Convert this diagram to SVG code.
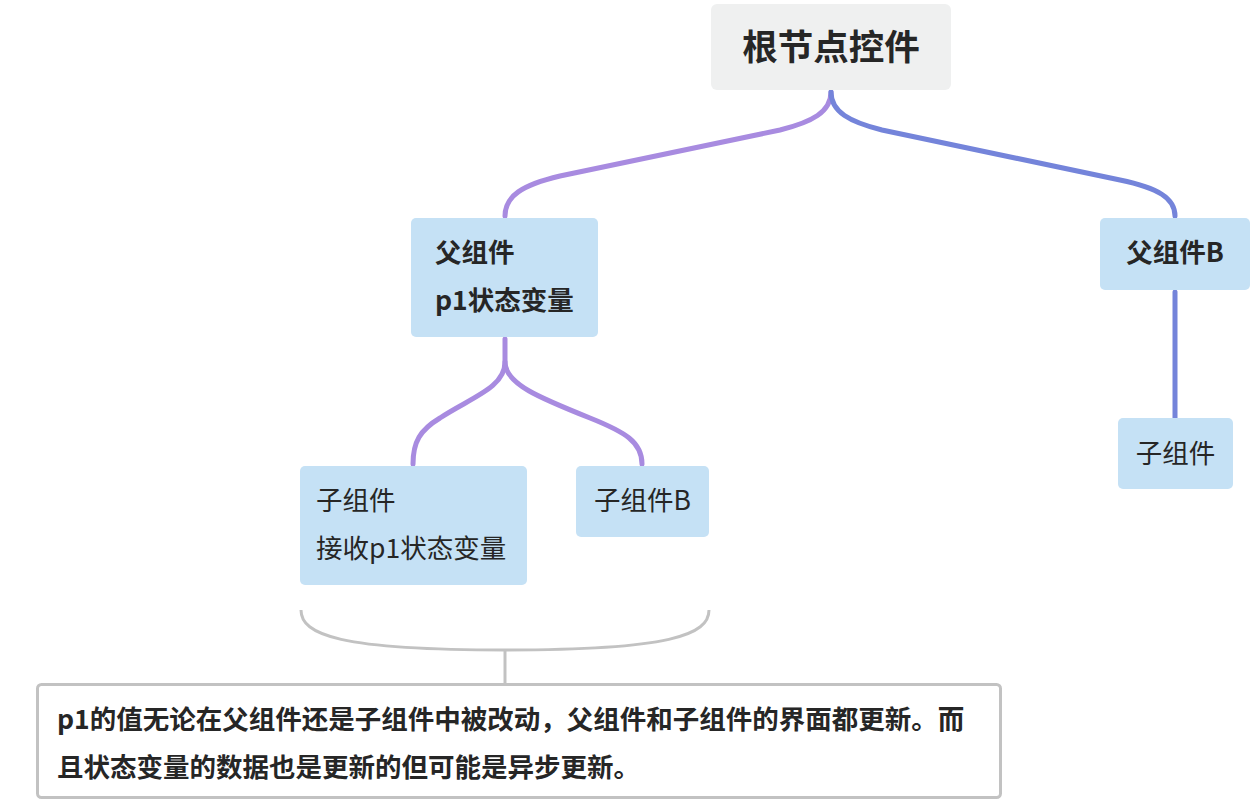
<svg xmlns="http://www.w3.org/2000/svg" width="1258" height="806" viewBox="0 0 1258 806">
<style>
text{font-family:"Noto Sans CJK SC","Noto Sans",sans-serif;fill:#262626}
.n{fill:#c5e1f5}
.b{font-weight:bold}
.t{font-size:26.500px}
.c{fill:none;stroke-width:5;stroke-linecap:round}
.p{stroke:#a88be0}
.u{stroke:#7484da}
.g{fill:none;stroke:#c2c2c2;stroke-width:3}
</style>
<rect width="1258" height="806" fill="#ffffff"/>
<g id="connectors">
<path class="c p" d="M831,92 C831,112 812,122 780,130 L560,176 C522,185 505,196 505,216"/>
<path class="c u" d="M831,92 C831,112 850,122 882,130 L1120,180 C1158,188 1175,198 1175,216"/>
<path class="c p" d="M505,339 L505,362 C505,388 470,398 440,418 C420,430 413,442 413,464"/>
<path class="c p" d="M505,362 C505,384 540,398 590,418 C625,432 642,442 642,464"/>
<path class="c u" d="M1175,292 L1175,418"/>
<path class="g" d="M301,610 C301,635 340,650 505,650 C670,650 709,635 709,610"/>
<path class="g" d="M505,650 L505,684"/>
</g>
<g id="root">
<rect x="711" y="4" width="240" height="86" rx="6" fill="#eff0f0"/>
<text x="831" y="60" text-anchor="middle" font-size="35.500" class="b">根节点控件</text>
</g>
<g id="parentA">
<rect class="n" x="411" y="218" width="187" height="119" rx="5"/>
<text class="t b" x="435" y="262">父组件</text>
<text class="t b" x="435" y="310">p1状态变量</text>
</g>
<g id="parentB">
<rect class="n" x="1100" y="218" width="150" height="72" rx="5"/>
<text class="t b" x="1175" y="262" text-anchor="middle">父组件B</text>
</g>
<g id="childA">
<rect class="n" x="300" y="466" width="227" height="119" rx="5"/>
<text class="t" x="316" y="510">子组件</text>
<text class="t" x="316" y="558">接收p1状态变量</text>
</g>
<g id="childB">
<rect class="n" x="576" y="466" width="133" height="71" rx="5"/>
<text class="t" x="642.500" y="510" text-anchor="middle">子组件B</text>
</g>
<g id="childC">
<rect class="n" x="1118" y="418" width="115" height="71" rx="5"/>
<text class="t" x="1175.500" y="463" text-anchor="middle">子组件</text>
</g>
<g id="note">
<rect x="37.500" y="684.500" width="963" height="113" rx="4" fill="#ffffff" stroke="#c2c2c2" stroke-width="3"/>
<text class="t b" x="57" y="729">p1的值无论在父组件还是子组件中被改动，父组件和子组件的界面都更新。而</text>
<text class="t b" x="57" y="777">且状态变量的数据也是更新的但可能是异步更新。</text>
</g>
</svg>
